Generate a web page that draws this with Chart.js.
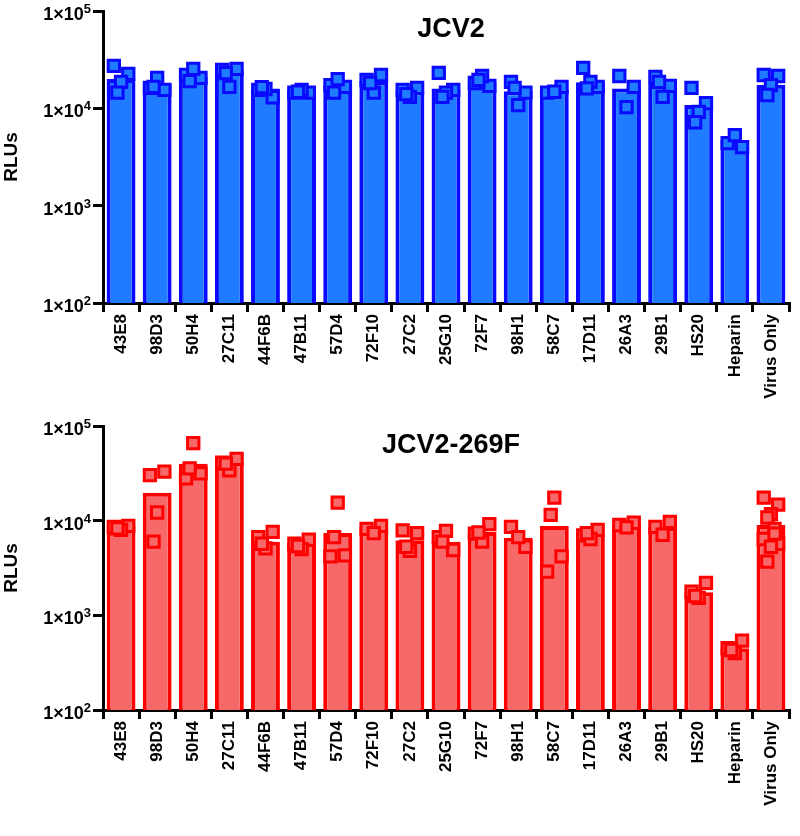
<!DOCTYPE html>
<html>
<head>
<meta charset="utf-8">
<title>JCV2 RLUs</title>
<script src="https://cdn.jsdelivr.net/npm/chart.js@4.4.1/dist/chart.umd.min.js"></script>
<style>
    body { margin: 0; background: #fff; }
    .panel { position: relative; width: 800px; }
    #topPanel { height: 415px; }
    #bottomPanel { height: 421px; }
    .panel-title {
        position: absolute;
        left: 451px;
        transform: translateX(-50%);
        font-family: "Liberation Sans", Arial, sans-serif;
        font-weight: bold;
        font-size: 27px;
        color: #000;
        white-space: nowrap;
        z-index: 2;
    }
</style>
</head>
<body>
<div class="panel" id="topPanel">
    <div class="panel-title" style="top: 13px;">JCV2</div>
    <canvas id="topChart"></canvas>
</div>
<div class="panel" id="bottomPanel">
    <div class="panel-title" style="top: 14px;">JCV2-269F</div>
    <canvas id="bottomChart"></canvas>
</div>
<script>
// ========================================
// DATA
// ========================================
const categories = ['43E8', '98D3', '50H4', '27C11', '44F6B', '47B11', '57D4', '72F10', '27C2',
    '25G10', '72F7', '98H1', '58C7', '17D11', '26A3', '29B1', 'HS20', 'Heparin', 'Virus Only'];

const yTicks = [100, 1000, 10000, 100000];

// JCV2 - bar heights and replicate points
const jcv2Bars = [20000, 18000, 21000, 24000, 16000, 15500, 17500, 19000, 15000,
    16000, 18500, 15000, 15500, 18500, 16000, 18000, 10800, 4700, 17500];
const jcv2Points = [
    [27300, 22600, 18700, 14500],
    [16200, 15500, 20600, 16600],
    [22000, 20600, 25400, 19000],
    [24800, 25400, 16600, 23000],
    [15500, 13000, 15800, 16500],
    [14500, 14500, 15500, 14800],
    [17300, 16600, 20000, 14500],
    [19600, 22000, 14500, 18200],
    [15500, 16200, 13100, 14000],
    [23100, 15500, 14500, 13100],
    [18200, 17000, 21500, 19600],
    [18700, 14500, 10800, 16200],
    [14500, 16600, 14800],
    [26000, 16600, 18700, 16000],
    [21500, 16600, 10300],
    [21000, 17000, 13100, 18700],
    [16200, 11300, 9200, 7200],
    [4400, 4000, 5300],
    [22000, 21500, 17300, 13700]
];

// JCV2-269F - bar heights and replicate points
const mutBars = [8800, 19700, 40000, 42000, 6000, 5800, 7400, 8500, 6200,
    6000, 7600, 6600, 8800, 7300, 9000, 8500, 1750, 450, 9000];
const mutPoints = [
    [8600, 8800, 8000, 8300],
    [30300, 33000, 12200, 6000],
    [28000, 31600, 66000, 35700],
    [41000, 45000, 34000, 40000],
    [6700, 7600, 5100, 5700],
    [5700, 6300, 5000, 5400],
    [4200, 4300, 15500, 6700],
    [8200, 8800, 7400],
    [7900, 7400, 4800, 5300],
    [6700, 4900, 7800, 6000],
    [7300, 9200, 6000, 7500],
    [8600, 5300, 6700],
    [2900, 4200, 17500, 11500],
    [7000, 8000, 6400, 7400],
    [9000, 9500, 8500],
    [8600, 9700, 7100],
    [1780, 2200, 1530, 1600],
    [450, 540, 400, 430],
    [17500, 14800, 11700, 10800, 8200, 6400, 5700, 5300, 3700, 7300]
];

// ========================================
// HELPERS
// ========================================
const FONT = '"Liberation Sans", Arial, sans-serif';

// spread replicate points sideways inside their bar
const spread = [-0.2, 0.2, 0, -0.1, 0.1, -0.2, 0.2, 0, -0.1, 0.1];

function toPoints(groups) {
    const pts = [];
    groups.forEach((group, i) => {
        group.forEach((v, k) => {
            pts.push({ x: i + spread[k % spread.length], y: v });
        });
    });
    return pts;
}

function toBars(values) {
    return values.map((v, i) => ({ x: i, y: v }));
}

// y tick labels as 1x10 with a raised exponent
const powerLabels = {
    id: 'powerLabels',
    afterDraw(chart) {
        const ctx = chart.ctx;
        const y = chart.scales.y;
        const right = chart.chartArea.left - 12;
        ctx.save();
        ctx.fillStyle = '#000';
        ctx.textBaseline = 'alphabetic';
        yTicks.forEach(v => {
            const py = y.getPixelForValue(v);
            const exp = String(Math.round(Math.log10(v)));
            ctx.font = 'bold 13px ' + FONT;
            const expW = ctx.measureText(exp).width;
            ctx.textAlign = 'left';
            ctx.fillText(exp, right - expW, py + 2);
            ctx.font = 'bold 18px ' + FONT;
            ctx.textAlign = 'right';
            ctx.fillText('1\u00D710', right - expW, py + 9);
        });
        ctx.restore();
    }
};

// ========================================
// BUILD CHART
// ========================================
function buildChart(canvasId, bars, points, fill, stroke, topPad, axisHeight) {
    const ctx = document.getElementById(canvasId).getContext('2d');

    return new Chart(ctx, {
        type: 'bar',
        data: {
            datasets: [{
                type: 'scatter',
                data: toPoints(points),
                pointStyle: 'rect',
                pointRadius: 8,
                pointBackgroundColor: fill,
                pointBorderColor: stroke,
                pointBorderWidth: 3,
                order: 0
            }, {
                type: 'bar',
                data: toBars(bars),
                backgroundColor: fill,
                borderColor: stroke,
                borderWidth: 4,
                borderSkipped: 'start',
                grouped: false,
                barPercentage: 0.8,
                categoryPercentage: 1,
                order: 1
            }]
        },
        plugins: [powerLabels],
        options: {
            responsive: true,
            maintainAspectRatio: false,
            animation: false,
            layout: { padding: { top: topPad, right: 4, left: 0, bottom: 0 } },
            plugins: {
                legend: { display: false },
                tooltip: { enabled: false }
            },
            scales: {
                x: {
                    type: 'linear',
                    offset: false,
                    min: -0.5,
                    max: categories.length - 0.5,
                    afterBuildTicks: function(scale) {
                        scale.ticks = categories.map((c, i) => ({ value: i }));
                    },
                    grid: {
                        drawOnChartArea: false,
                        color: '#000',
                        lineWidth: 3,
                        tickLength: 9
                    },
                    border: { color: '#000', width: 3 },
                    ticks: {
                        minRotation: 90,
                        maxRotation: 90,
                        autoSkip: false,
                        padding: 2,
                        color: '#000',
                        font: { family: FONT, size: 17, weight: 'bold' },
                        callback: function(value) { return categories[value]; }
                    },
                    afterFit: function(scale) { scale.height = axisHeight; }
                },
                y: {
                    type: 'logarithmic',
                    min: yTicks[0],
                    max: yTicks[yTicks.length - 1],
                    afterBuildTicks: function(scale) {
                        scale.ticks = yTicks.map(v => ({ value: v }));
                    },
                    grid: {
                        drawOnChartArea: false,
                        color: '#000',
                        lineWidth: 3,
                        tickLength: 10
                    },
                    border: { color: '#000', width: 3 },
                    ticks: { display: false },
                    title: {
                        display: true,
                        text: 'RLUs',
                        color: '#000',
                        padding: { top: 0, bottom: 4 },
                        font: { family: FONT, size: 19, weight: 'bold' }
                    },
                    afterFit: function(scale) { scale.width = 103; }
                }
            }
        }
    });
}

document.addEventListener('DOMContentLoaded', function() {
    buildChart('topChart', jcv2Bars, jcv2Points, '#1F7BFF', '#0A0AFF', 11, 112);
    buildChart('bottomChart', mutBars, mutPoints, '#F76868', '#FF0000', 5, 126);
});
</script>
</body>
</html>
